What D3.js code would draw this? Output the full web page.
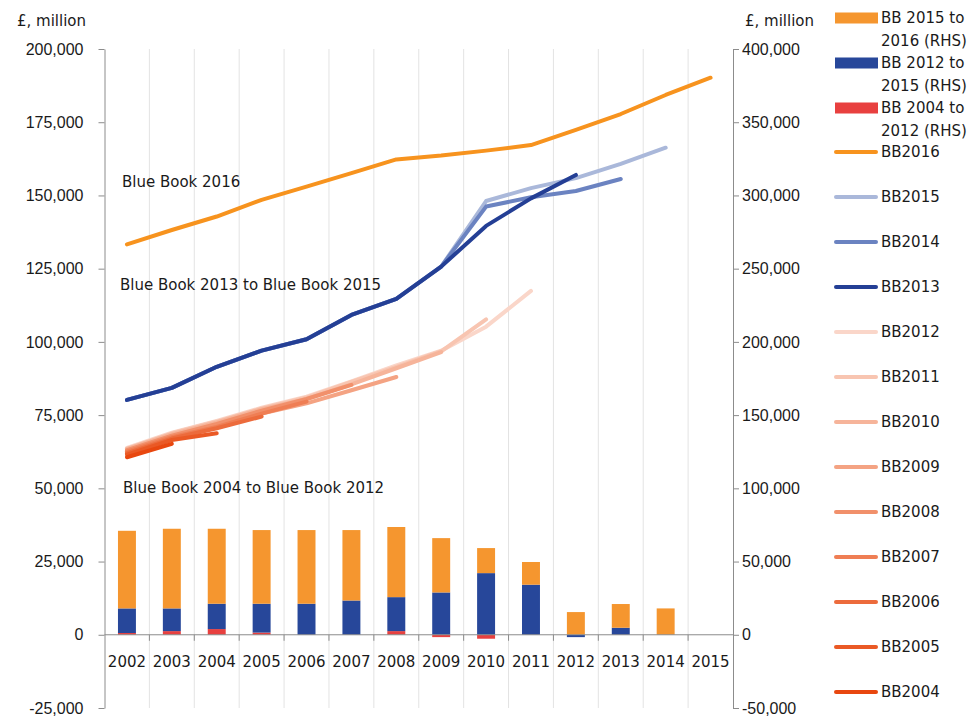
<!DOCTYPE html>
<html>
<head>
<meta charset="utf-8">
<script src="https://cdn.jsdelivr.net/npm/d3@7"></script>
<style>
  body { margin: 0; background: #fff; }
  svg { font-family: "DejaVu Sans", sans-serif; }
  .axis text { font-size: 16px; fill: #1a1a1a; }
  .axis path, .axis line { stroke: #8c8c8c; }
</style>
</head>
<body>
<svg id="chart" width="968" height="717"></svg>
<script>
const years = [2002, 2003, 2004, 2005, 2006, 2007, 2008, 2009, 2010, 2011, 2012, 2013, 2014, 2015];

// revisions, £ million (RHS)
const bb0412 = [1200, 2500, 3900, 1500, 0, 0, 2500, -1600, -2700, 0, 0, 0, 0, 0];
const bb1215 = [16800, 15500, 17300, 19700, 21200, 23400, 23200, 28900, 42100, 34200, -1600, 4800, 0, 0];
const bb1516 = [53000, 54400, 51200, 50300, 50300, 48100, 47900, 37100, 17100, 15500, 15500, 16200, 18000, 0];

// vintages, £ million (LHS)
const BB2016 = [133300, 138200, 142800, 148500, 153000, 157600, 162300, 163600, 165300, 167200, 172400, 177800, 184300, 190200];
const BB2015 = [80200, 84300, 91500, 97000, 100900, 109200, 114700, 125700, 148100, 152500, 155900, 160800, 166300, null];
const BB2014 = [80200, 84300, 91500, 97000, 100900, 109200, 114700, 125700, 146200, 149400, 151500, 155600, null, null];
const BB2013 = [80200, 84300, 91500, 97000, 100900, 109200, 114700, 125700, 139600, 149000, 157000, null, null, null];
const BB2012 = [63800, 69000, 73000, 77500, 81300, 86500, 92000, 97000, 105200, 117400, null, null, null, null];
const BB2011 = [63500, 68800, 72800, 77300, 81000, 86300, 91500, 96800, 107700, null, null, null, null, null];
const BB2010 = [63500, 68500, 72500, 77000, 80500, 85500, 91000, 96500, null, null, null, null, null, null];
const BB2009 = [62500, 67500, 71500, 75500, 79000, 83500, 88000, null, null, null, null, null, null, null];
const BB2008 = [63000, 68000, 72000, 76500, 80500, 85300, null, null, null, null, null, null, null, null];
const BB2007 = [62500, 67500, 71000, 75500, 79600, null, null, null, null, null, null, null, null, null];
const BB2006 = [62000, 67000, 70500, 74500, null, null, null, null, null, null, null, null, null, null];
const BB2005 = [61500, 66500, 68800, null, null, null, null, null, null, null, null, null, null, null];
const BB2004 = [60600, 65200, null, null, null, null, null, null, null, null, null, null, null, null];

const leftTicks = [-25000, 0, 25000, 50000, 75000, 100000, 125000, 150000, 175000, 200000];
const rightTicks = [-50000, 0, 50000, 100000, 150000, 200000, 250000, 300000, 350000, 400000];

const barSeries = [
  { key: "bb0412", label: ["BB 2004 to", "2012 (RHS)"], color: "#e8403f", values: bb0412 },
  { key: "bb1215", label: ["BB 2012 to", "2015 (RHS)"], color: "#27479a", values: bb1215 },
  { key: "bb1516", label: ["BB 2015 to", "2016 (RHS)"], color: "#f5962f", values: bb1516 }
];

const lineSeries = [
  { name: "BB2016", color: "#f7931e", values: BB2016 },
  { name: "BB2015", color: "#aab8da", values: BB2015 },
  { name: "BB2014", color: "#6b83c1", values: BB2014 },
  { name: "BB2013", color: "#243f95", values: BB2013 },
  { name: "BB2012", color: "#fad6c9", values: BB2012 },
  { name: "BB2011", color: "#f8c5b1", values: BB2011 },
  { name: "BB2010", color: "#f6b49a", values: BB2010 },
  { name: "BB2009", color: "#f4a383", values: BB2009 },
  { name: "BB2008", color: "#f1906b", values: BB2008 },
  { name: "BB2007", color: "#ef7e54", values: BB2007 },
  { name: "BB2006", color: "#ec6b3c", values: BB2006 },
  { name: "BB2005", color: "#ea5925", values: BB2005 },
  { name: "BB2004", color: "#e8470f", values: BB2004 }
];

const svg = d3.select("#chart");
const plot = { left: 104.5, right: 733, top: 49, bottom: 708 };

const x = d3.scaleBand().domain(years).range([plot.left, plot.right]);
const bw = x.bandwidth();
const yL = d3.scaleLinear().domain([-25000, 200000]).range([plot.bottom, plot.top]);
const yR = d3.scaleLinear().domain([-50000, 400000]).range([plot.bottom, plot.top]);
const fmt = (d) => d3.format(",")(d).replace("−", "-");

// vertical gridlines
svg.append("g")
  .selectAll("line")
  .data(years.slice(1))
  .join("line")
  .attr("x1", (d) => x(d)).attr("x2", (d) => x(d))
  .attr("y1", plot.top).attr("y2", plot.bottom)
  .attr("stroke", "#e3e3e3");

// stacked bars
const table = years.map((yr, i) => {
  const row = { year: yr };
  barSeries.forEach((s) => (row[s.key] = s.values[i]));
  return row;
});
const stacked = d3.stack()
  .keys(barSeries.map((s) => s.key))
  .offset(d3.stackOffsetDiverging)(table);

svg.append("g")
  .selectAll("g")
  .data(stacked)
  .join("g")
  .attr("fill", (d, i) => barSeries[i].color)
  .selectAll("rect")
  .data((d) => d)
  .join("rect")
  .attr("x", (d) => x(d.data.year) + bw * 0.3)
  .attr("width", bw * 0.4)
  .attr("y", (d) => yR(Math.max(d[0], d[1])))
  .attr("height", (d) => Math.abs(yR(d[0]) - yR(d[1])));

// zero line with category ticks
svg.append("line")
  .attr("x1", plot.left).attr("x2", plot.right)
  .attr("y1", yL(0)).attr("y2", yL(0))
  .attr("stroke", "#8c8c8c");
svg.append("g")
  .selectAll("line")
  .data(years.slice(1))
  .join("line")
  .attr("x1", (d) => x(d)).attr("x2", (d) => x(d))
  .attr("y1", yL(0)).attr("y2", yL(0) + 6)
  .attr("stroke", "#8c8c8c");

svg.append("g")
  .selectAll("text")
  .data(years)
  .join("text")
  .attr("x", (d) => x(d) + bw / 2)
  .attr("y", 667)
  .attr("text-anchor", "middle")
  .attr("font-size", 15)
  .attr("fill", "#1a1a1a")
  .text((d) => d);

// lines
const line = d3.line()
  .defined((d) => d.v != null)
  .x((d) => x(d.year) + bw / 2)
  .y((d) => yL(d.v));

svg.append("g")
  .selectAll("path")
  .data(lineSeries)
  .join("path")
  .attr("d", (s) => line(years.map((yr, i) => ({ year: yr, v: s.values[i] }))))
  .attr("fill", "none")
  .attr("stroke", (s) => s.color)
  .attr("stroke-width", 4)
  .attr("stroke-linecap", "round")
  .attr("stroke-linejoin", "round");

// axes
svg.append("g")
  .attr("class", "axis")
  .attr("transform", `translate(${plot.left},0)`)
  .call(d3.axisLeft(yL).tickValues(leftTicks).tickFormat(fmt).tickSize(6).tickSizeOuter(0).tickPadding(15));

svg.append("g")
  .attr("class", "axis")
  .attr("transform", `translate(${plot.right},0)`)
  .call(d3.axisRight(yR).tickValues(rightTicks).tickFormat(fmt).tickSize(6).tickSizeOuter(0).tickPadding(3));

svg.append("text").attr("x", 17).attr("y", 26).attr("font-size", 15).attr("fill", "#1a1a1a").text("£, million");
svg.append("text").attr("x", 745).attr("y", 26).attr("font-size", 15).attr("fill", "#1a1a1a").text("£, million");

// annotations
const notes = [
  { text: "Blue Book 2016", x: 122, y: 187 },
  { text: "Blue Book 2013 to Blue Book 2015", x: 120, y: 290 },
  { text: "Blue Book 2004 to Blue Book 2012", x: 123, y: 493 }
];
svg.append("g")
  .selectAll("text")
  .data(notes)
  .join("text")
  .attr("x", (d) => d.x).attr("y", (d) => d.y)
  .attr("font-size", 15).attr("fill", "#1a1a1a")
  .text((d) => d.text);

// legend
const legend = svg.append("g").attr("transform", "translate(834,0)");
const barLegend = barSeries.slice().reverse();
barLegend.forEach((s, i) => {
  const cy = 18 + i * 45;
  legend.append("rect").attr("x", 1).attr("y", cy - 5.5).attr("width", 43).attr("height", 11).attr("fill", s.color);
  legend.append("text").attr("x", 47).attr("y", cy + 5).attr("font-size", 15).attr("fill", "#1a1a1a").text(s.label[0]);
  legend.append("text").attr("x", 47).attr("y", cy + 28).attr("font-size", 15).attr("fill", "#1a1a1a").text(s.label[1]);
});
lineSeries.forEach((s, i) => {
  const cy = 152 + i * 45;
  legend.append("line").attr("x1", 2).attr("x2", 42).attr("y1", cy).attr("y2", cy)
    .attr("stroke", s.color).attr("stroke-width", 4).attr("stroke-linecap", "round");
  legend.append("text").attr("x", 47).attr("y", cy + 5).attr("font-size", 15).attr("fill", "#1a1a1a").text(s.name);
});
</script>
</body>
</html>
